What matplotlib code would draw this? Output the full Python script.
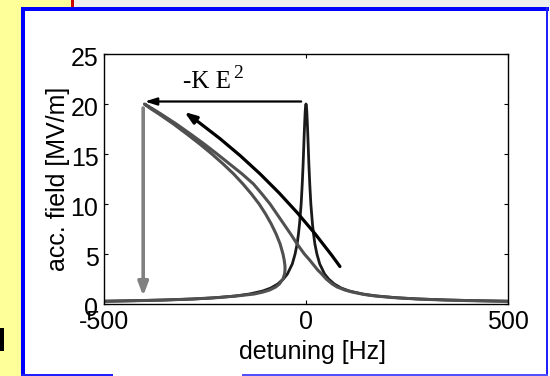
import matplotlib
matplotlib.use('Agg')
import matplotlib.pyplot as plt
import matplotlib.transforms as mtransforms
from matplotlib.patches import Rectangle

plt.rcParams['font.family'] = ['Liberation Sans', 'DejaVu Sans']
plt.rcParams['axes.unicode_minus'] = False

# resonance with Lorentz force detuning:
# field level [MV/m] and detuning [Hz] of the left and right branch
tilt_field = [20, 19.5, 19, 18, 17, 16, 15, 14, 13, 12, 11, 10, 9, 8, 7, 6, 5,
              4.4, 3.8, 3.4, 3.0, 2.5, 2.0, 1.7, 1.4, 1.2, 1.0, 0.9, 0.8, 0.65,
              0.5, 0.4, 0.35, 0.3, 0.27]
tilt_left = [-400, -383, -364, -328, -295, -263, -233, -205, -179, -156, -135,
             -116, -100, -86, -74, -64, -57, -54, -52, -52, -53, -57, -66, -75,
             -90, -106, -128, -150, -172, -215, -280, -350, -400, -460, -500]
tilt_right = [-400, -379, -359, -321, -286, -252, -220, -189, -158, -130, -109,
              -89, -72, -55, -38, -22, -4, 9, 21, 29, 39, 50, 65, 77, 96, 114,
              138, 152, 172, 212, 275, 340, 390, 450, 500]

# resonance without detuning: field level and half width [Hz]
lor_field = [20, 19.7, 19.3, 19, 18, 17, 16, 14, 12, 10, 8, 7, 6, 5, 4, 3, 2.5,
             2, 1.6, 1.3, 1.0, 0.8, 0.6, 0.5, 0.4, 0.33, 0.28]
lor_half = [0, 1.2, 1.9, 2.3, 3.4, 4.4, 5.3, 7.1, 9.3, 12, 16, 18.7, 22, 27, 34,
            46, 56, 70, 87, 107, 140, 175, 233, 280, 350, 424, 500]

# arrows: (start, end) in data units
shift_arrow = [(-12, 20.25), (-399, 20.25)]
drop_arrow = [(-403, 19.6), (-403, 0.8)]
ramp_arrow = [(84, 3.75), (-301, 19.2)]

x_ticks = [-500, 0, 500]
y_ticks = [0, 5, 10, 15, 20, 25]

W, H = 550, 376
fig = plt.figure(figsize=(W / 100, H / 100), dpi=100)
fig.patch.set_facecolor('white')


def px_rect(x0, y0, x1, y1, color):
    fig.patches.append(Rectangle((x0 / W, 1 - y1 / H), (x1 - x0) / W, (y1 - y0) / H,
                                 transform=fig.transFigure, color=color, lw=0))


# slide pieces around the plot
px_rect(0, 0, 21, H, '#ffff99')
px_rect(0, 0, 71, 7, '#ffff99')
px_rect(74, 0, W, 7, '#eeeeee')
px_rect(71, 0, 74, 7, '#cc0000')
px_rect(0, 328, 3.5, 351, 'black')
px_rect(21, 7, 25, H, '#0000ff')
px_rect(21, 7, 549, 10.7, '#0000ff')
px_rect(545.5, 7, 548, H, '#2020ff')
px_rect(21, 373.5, 113, H, '#2020ff')
px_rect(242, 374, 548, 375.5, '#5050ff')

ax = fig.add_axes([104 / W, 72 / H, 404 / W, 250 / H])

lx = [-w for w in lor_half[::-1]] + lor_half[1:]
ly = lor_field[::-1] + lor_field[1:]
ax.plot(lx, ly, color='#1a1a1a', lw=2, solid_joinstyle='round')

tx = tilt_left[::-1] + tilt_right[1:]
ty = tilt_field[::-1] + tilt_field[1:]
ax.plot(tx, ty, color='#505050', lw=2.2, solid_joinstyle='round')

ax.annotate('', xy=shift_arrow[1], xytext=shift_arrow[0],
            arrowprops=dict(arrowstyle='-|>,head_length=0.7,head_width=0.22',
                            color='black', lw=1.6, shrinkA=0, shrinkB=0))
ax.annotate('', xy=drop_arrow[1], xytext=drop_arrow[0],
            arrowprops=dict(arrowstyle='-|>,head_length=0.8,head_width=0.3',
                            color='#808080', lw=2.6, shrinkA=0, shrinkB=0))
ax.annotate('', xy=ramp_arrow[1], xytext=ramp_arrow[0],
            arrowprops=dict(arrowstyle='-|>,head_length=0.7,head_width=0.25',
                            color='black', lw=2.3, shrinkA=0, shrinkB=0,
                            connectionstyle='arc3,rad=0.085'))

# -K E^2, superscript set as its own text so it can stay large
ax.text(-305, 21.63, '-K E', fontsize=18, family='Liberation Serif',
        va='baseline', ha='left')
ax.text(-181, 22.63, '2', fontsize=14, family='Liberation Serif',
        va='baseline', ha='left')

ax.set_xlim(-500, 500)
ax.set_ylim(0, 25)
ax.set_xticks(x_ticks)
ax.set_yticks(y_ticks)
ax.tick_params(direction='in', top=True, right=True, length=3.2, width=0.8,
               labelsize=18)
ax.tick_params(axis='x', pad=4.5)
ax.tick_params(axis='y', pad=4)
for s in ax.spines.values():
    s.set_linewidth(1.0)

offset = mtransforms.ScaledTranslation(0, -0.03, fig.dpi_scale_trans)
for lbl in ax.get_yticklabels():
    lbl.set_transform(lbl.get_transform() + offset)

ax.set_xlabel('detuning [Hz]', fontsize=18, va='center')
ax.xaxis.set_label_coords(0.517, -0.192)
ax.set_ylabel('acc. field [MV/m]', fontsize=18, va='center')
ax.yaxis.set_label_coords(-0.114, 0.5)

fig.savefig('out.png', dpi=100)
